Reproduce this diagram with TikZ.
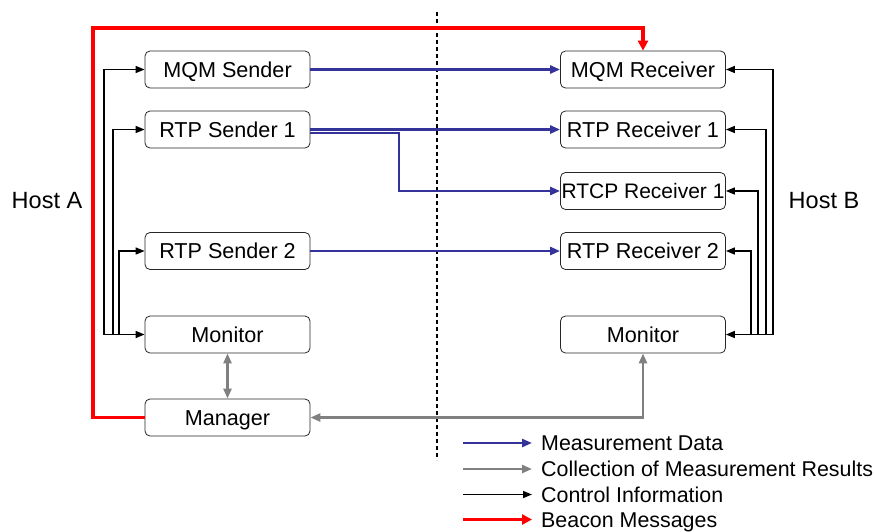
\documentclass[tikz,border=0pt]{standalone}
\usepackage{fontspec}
\setmainfont{Liberation Sans}
\usetikzlibrary{arrows.meta}
\definecolor{mblue}{RGB}{51,51,153}
\definecolor{mgray}{RGB}{128,128,128}
\begin{document}
\begin{tikzpicture}[x=1pt,y=-1pt,
  box/.style={draw=black!85, rounded corners=5pt, minimum width=165pt, minimum height=37pt, inner sep=1pt, font=\fontsize{21.6}{26}\selectfont, text height=15.4pt, text depth=0pt, line width=0.8pt},
  lbl/.style={font=\fontsize{21.4}{26}\selectfont, inner sep=0pt, text height=15.3pt, text depth=0pt},
  host/.style={font=\fontsize{23.5}{28}\selectfont, inner sep=0pt, text height=16.8pt, text depth=0pt},
  meas/.style={draw=mblue, line width=2.6pt, -{Triangle[length=10pt,width=8pt]}},
  coll/.style={draw=mgray, line width=2.6pt, -{Triangle[length=10pt,width=8pt]}},
  ctrl/.style={draw=black, line width=1.5pt, -{Triangle[length=9pt,width=7pt]}},
  beacon/.style={draw=red, line width=3.6pt, -{Triangle[length=10pt,width=10pt]}}
]
\clip (0,0) rectangle (875,531);
\useasboundingbox (0,0) rectangle (875,531);

% dashed divider
\draw[line width=1.2pt, dash pattern=on 4pt off 3pt] (437,12) -- (437,460);

% Host A side
\node[box] (mqmS)  at (227.5,69.5)  {MQM Sender};
\node[box] (rtpS1) at (227.5,129.5) {RTP Sender 1};
\node[box] (rtpS2) at (227.5,251)   {RTP Sender 2};
\node[box] (monA)  at (227.5,334.5) {Monitor};
\node[box] (mgr)   at (227.5,417.5) {Manager};

% Host B side
\node[box] (mqmR)  at (643,69.5)  {MQM Receiver};
\node[box] (rtpR1) at (643,129.5) {RTP Receiver 1};
\node[box, inner xsep=0pt, font=\fontsize{21}{26}\selectfont, text height=15pt] (rtcpR) at (643,191) {RTCP Receiver 1};
\node[box] (rtpR2) at (643,251)   {RTP Receiver 2};
\node[box] (monB)  at (643,334.5) {Monitor};

\node[host] (hostA) at (47,200) {Host A};
\node[host] (hostB) at (824,200) {Host B};

% measurement data
\draw[meas] (mqmS.east) -- (mqmR.west);
\draw[meas] (rtpS1.east) -- (rtpR1.west);
\coordinate (bend) at (399,191);
\draw[meas] ([yshift=-3.6pt]rtpS1.east) -| (bend) -- (rtcpR.west);
\draw[meas] (rtpS2.east) -- (rtpR2.west);

% collection
\draw[coll, {Triangle[length=10pt,width=8pt]}-{Triangle[length=10pt,width=8pt]}] (monA.south) -- (mgr.north);
\draw[coll, {Triangle[length=10pt,width=8pt]}-{Triangle[length=10pt,width=8pt]}] (mgr.east) -| (monB.south);

% control, host A
\coordinate (la1) at (104,334.5);
\coordinate (la2) at (113,334.5);
\coordinate (la3) at (119,334.5);
\draw[ctrl] (la1) -- (monA.west);
\draw[ctrl] (la1) |- (mqmS.west);
\draw[ctrl] (la2) |- (rtpS1.west);
\draw[ctrl] (la3) |- (rtpS2.west);

% control, host B
\coordinate (rb1) at (773,334.5);
\coordinate (rb2) at (766,334.5);
\coordinate (rb3) at (758,334.5);
\coordinate (rb4) at (751,334.5);
\draw[ctrl] (rb1) -- (monB.east);
\draw[ctrl] (rb1) |- (mqmR.east);
\draw[ctrl] (rb2) |- (rtpR1.east);
\draw[ctrl] (rb3) |- (rtcpR.east);
\draw[ctrl] (rb4) |- (rtpR2.east);

% beacon
\coordinate (bcorner) at (93,28);
\draw[beacon] (mgr.west) -| (bcorner) -| (mqmR.north);

% legend
\coordinate (l1a) at (463,443); \coordinate (l1b) at (532,443);
\coordinate (l2a) at (463,469); \coordinate (l2b) at (532,469);
\coordinate (l3a) at (463,494.5); \coordinate (l3b) at (532,494.5);
\coordinate (l4a) at (463,519.5); \coordinate (l4b) at (532,519.5);
\draw[meas] (l1a) -- (l1b);
\draw[coll] (l2a) -- (l2b);
\draw[ctrl] (l3a) -- (l3b);
\draw[beacon] (l4a) -- (l4b);
\node[lbl, anchor=west] (t1) at (541,443) {Measurement Data};
\node[lbl, anchor=west] (t2) at (541,469) {Collection of Measurement Results};
\node[lbl, anchor=west] (t3) at (541,494.5) {Control Information};
\node[lbl, anchor=west] (t4) at (541,519.5) {Beacon Messages};
\end{tikzpicture}
\end{document}
